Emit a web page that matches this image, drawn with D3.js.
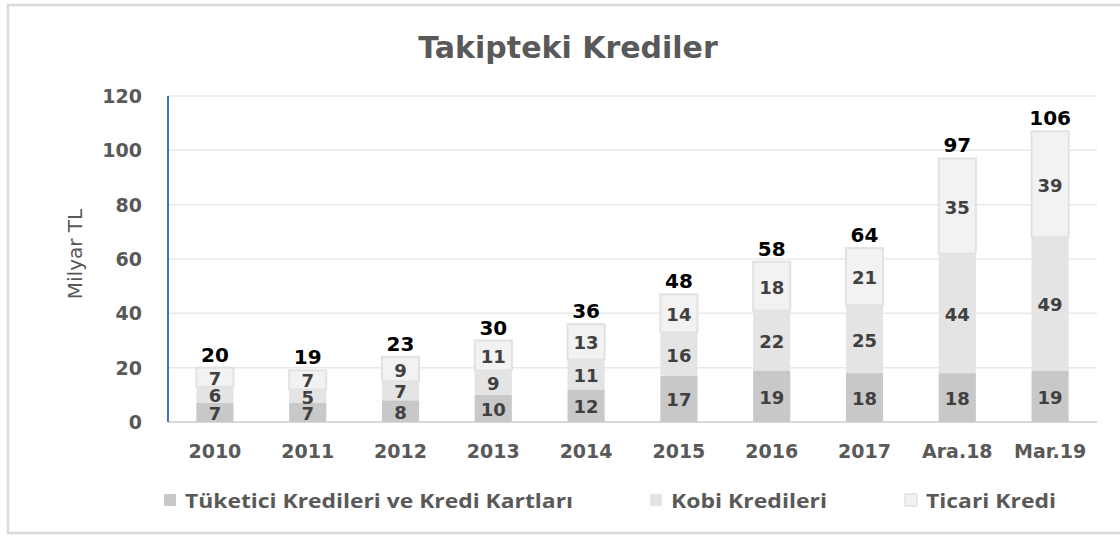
<!DOCTYPE html>
<html>
<head>
<meta charset="utf-8">
<script src="https://cdn.jsdelivr.net/npm/d3@7"></script>
<style>
  html, body { margin: 0; padding: 0; background: #ffffff; }
  svg { display: block; }
</style>
</head>
<body>
<svg id="chart" width="1120" height="538"></svg>
<script>
const categories = ["2010", "2011", "2012", "2013", "2014", "2015", "2016", "2017", "Ara.18", "Mar.19"];
const tuketici = [7, 7, 8, 10, 12, 17, 19, 18, 18, 19];
const kobi = [6, 5, 7, 9, 11, 16, 22, 25, 44, 49];
const ticari = [7, 7, 9, 11, 13, 14, 18, 21, 35, 39];
const totals = [20, 19, 23, 30, 36, 48, 58, 64, 97, 106];
const seriesNames = ["Tüketici Kredileri ve Kredi Kartları", "Kobi Kredileri", "Ticari Kredi"];
const yTicks = [0, 20, 40, 60, 80, 100, 120];
const title = "Takipteki Krediler";
const yTitle = "Milyar TL";

const colors = ["#c9c8c8", "#e4e4e4", "#f2f2f2"];
const strokes = [null, null, "#e2e2e2"];

const svg = d3.select("#chart");
const FONT = "'DejaVu Sans', Verdana, sans-serif";

// outer border
svg.append("rect").attr("x", 8).attr("y", 5).attr("width", 1130).attr("height", 528)
  .attr("fill", "#fff").attr("stroke", "#d9d9d9").attr("stroke-width", 2.5);

const x = d3.scaleBand().domain(categories).range([168.5, 1096.5]).paddingInner(0.6).paddingOuter(0.3);
const y = d3.scaleLinear().domain([0, 120]).range([422, 96]);

// gridlines
svg.append("g").selectAll("line").data(yTicks.filter(d => d > 0)).join("line")
  .attr("x1", 168).attr("x2", 1097)
  .attr("y1", d => y(d)).attr("y2", d => y(d))
  .attr("stroke", "#e8e8e8").attr("stroke-width", 1.5);

// baseline
svg.append("line").attr("x1", 168).attr("x2", 1097).attr("y1", y(0)).attr("y2", y(0))
  .attr("stroke", "#d9d9d9").attr("stroke-width", 2);

// stacked data
const rows = categories.map((c, i) => ({ cat: c, s0: tuketici[i], s1: kobi[i], s2: ticari[i] }));
const stack = d3.stack().keys(["s0", "s1", "s2"])(rows);

const bw = x.bandwidth();
stack.forEach((layer, li) => {
  const g = svg.append("g");
  g.selectAll("rect").data(layer).join("rect")
    .attr("x", d => x(d.data.cat))
    .attr("width", bw)
    .attr("y", d => y(d[1]))
    .attr("height", d => y(d[0]) - y(d[1]))
    .attr("fill", colors[li])
    .attr("stroke", strokes[li] || "none")
    .attr("stroke-width", strokes[li] ? 2 : 0);
});
stack.forEach((layer, li) => {
  svg.append("g").selectAll("text").data(layer).join("text")
    .attr("x", d => x(d.data.cat) + bw / 2)
    .attr("y", d => (y(d[0]) + y(d[1])) / 2 + 1)
    .attr("text-anchor", "middle")
    .attr("dominant-baseline", "central")
    .attr("font-family", FONT).attr("font-weight", "bold").attr("font-size", 18)
    .attr("fill", "#404040")
    .text(d => d.data["s" + li]);
});

// totals
svg.append("g").selectAll("text").data(rows).join("text")
  .attr("x", d => x(d.cat) + bw / 2)
  .attr("y", (d, i) => y(stack[2][i][1]) - 6)
  .attr("text-anchor", "middle")
  .attr("font-family", FONT).attr("font-weight", "bold").attr("font-size", 20)
  .attr("fill", "#000")
  .text((d, i) => totals[i]);

// y axis line (blue)
svg.append("line").attr("x1", 168).attr("x2", 168).attr("y1", y(120)).attr("y2", y(0))
  .attr("stroke", "#4472c4").attr("stroke-width", 2);

// y ticks
svg.append("g").selectAll("text").data(yTicks).join("text")
  .attr("x", 142).attr("y", d => y(d))
  .attr("text-anchor", "end").attr("dominant-baseline", "central")
  .attr("font-family", FONT).attr("font-weight", "bold").attr("font-size", 19)
  .attr("fill", "#595959")
  .text(d => d);

// x labels
svg.append("g").selectAll("text").data(categories).join("text")
  .attr("x", d => x(d) + bw / 2).attr("y", 458)
  .attr("text-anchor", "middle")
  .attr("font-family", FONT).attr("font-weight", "bold").attr("font-size", 19)
  .attr("fill", "#595959")
  .text(d => d);

// title
svg.append("text").attr("x", 568).attr("y", 58).attr("text-anchor", "middle")
  .attr("font-family", FONT).attr("font-weight", "bold").attr("font-size", 30)
  .attr("fill", "#595959").text(title);

// y title
svg.append("text").attr("transform", "translate(82,254) rotate(-90)")
  .attr("text-anchor", "middle")
  .attr("font-family", FONT).attr("font-size", 20)
  .attr("fill", "#595959").text(yTitle);

// legend
const legX = [164, 650, 905];
const legW = [388, 156, 130];
const lg = svg.append("g").selectAll("g").data(seriesNames).join("g")
  .attr("transform", (d, i) => `translate(${legX[i]},494)`);
lg.append("rect").attr("width", 12).attr("height", 12)
  .attr("fill", (d, i) => colors[i])
  .attr("stroke", (d, i) => strokes[i] || "none").attr("stroke-width", 1.5);
lg.append("text").attr("x", 21).attr("y", 6).attr("dominant-baseline", "central")
  .attr("font-family", "'Open Sans', sans-serif")
  .attr("font-weight", "bold").attr("font-size", 20).attr("fill", "#595959")
  .attr("textLength", (d, i) => legW[i]).attr("lengthAdjust", "spacingAndGlyphs")
  .text(d => d);
</script>
</body>
</html>
